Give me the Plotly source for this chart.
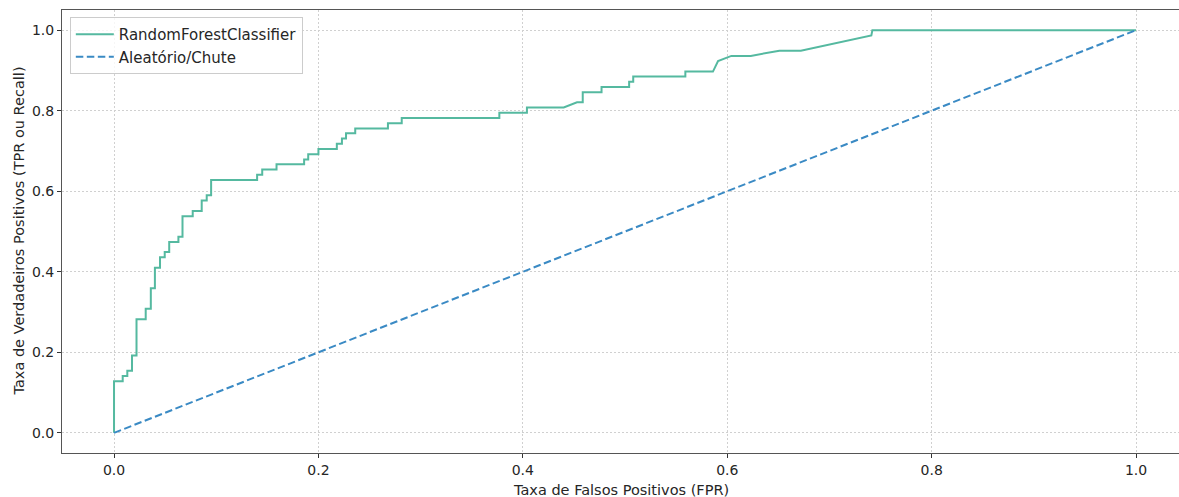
import plotly.graph_objects as go

model_name = "RandomForestClassifier"
baseline_name = "Aleatório/Chute"
x_title = "Taxa de Falsos Positivos (FPR)"
y_title = "Taxa de Verdadeiros Positivos (TPR ou Recall)"

fpr = [0.0, 0.0, 0.0085, 0.0085, 0.013, 0.013, 0.0176, 0.0176, 0.022, 0.022,
       0.031, 0.031, 0.036, 0.036, 0.040, 0.040, 0.045, 0.045, 0.0496, 0.0496,
       0.054, 0.054, 0.063, 0.063, 0.067, 0.067, 0.077, 0.077, 0.0858, 0.0858,
       0.0907, 0.0907, 0.095, 0.095, 0.140, 0.140, 0.145, 0.145, 0.159, 0.159,
       0.186, 0.186, 0.190, 0.190, 0.200, 0.200, 0.218, 0.218, 0.223, 0.223,
       0.227, 0.227, 0.236, 0.236, 0.268, 0.268, 0.2815, 0.2815, 0.377, 0.377,
       0.404, 0.404, 0.440, 0.453, 0.4586, 0.4586, 0.477, 0.477, 0.504, 0.504,
       0.508, 0.508, 0.559, 0.559, 0.586, 0.591, 0.604, 0.623, 0.651, 0.672,
       0.741, 0.742, 1.0]
tpr = [0.0, 0.128, 0.128, 0.141, 0.141, 0.154, 0.154, 0.192, 0.192, 0.282,
       0.282, 0.308, 0.308, 0.359, 0.359, 0.410, 0.410, 0.436, 0.436, 0.449,
       0.449, 0.474, 0.474, 0.487, 0.487, 0.538, 0.538, 0.551, 0.551, 0.577,
       0.577, 0.590, 0.590, 0.628, 0.628, 0.641, 0.641, 0.654, 0.654, 0.667,
       0.667, 0.679, 0.679, 0.692, 0.692, 0.705, 0.705, 0.718, 0.718, 0.731,
       0.731, 0.744, 0.744, 0.756, 0.756, 0.769, 0.769, 0.782, 0.782, 0.795,
       0.795, 0.808, 0.808, 0.821, 0.821, 0.846, 0.846, 0.859, 0.859, 0.872,
       0.872, 0.885, 0.885, 0.897, 0.897, 0.923, 0.936, 0.936, 0.949, 0.949,
       0.987, 1.0, 1.0]

chance_x = [0.0, 1.0]
chance_y = [0.0, 1.0]

tick_vals = [0.0, 0.2, 0.4, 0.6, 0.8, 1.0]
tick_text = ["0.0", "0.2", "0.4", "0.6", "0.8", "1.0"]

fig = go.Figure()
fig.add_trace(go.Scatter(x=fpr, y=tpr, mode="lines", name=model_name,
                         line=dict(color="#55b9a0", width=2)))
fig.add_trace(go.Scatter(x=chance_x, y=chance_y, mode="lines", name=baseline_name,
                         line=dict(color="#3a8ac4", width=2, dash="7.5px,3.5px")))

font_family = "DejaVu Sans"
axis_common = dict(
    automargin=False,
    showgrid=True, gridcolor="#d0d0d0", griddash="2px,2px", gridwidth=1,
    zeroline=False, showline=True, linecolor="#555555", linewidth=1,
    ticks="outside", ticklen=4, tickcolor="#333333", tickwidth=1,
    tickfont=dict(family=font_family, size=14, color="#262626"),
    tickvals=tick_vals, ticktext=tick_text,
)

fig.update_layout(
    width=1179, height=497,
    margin=dict(l=62, r=0, t=10, b=44, autoexpand=False),
    paper_bgcolor="white", plot_bgcolor="white",
    font=dict(family=font_family, color="#262626"),
    showlegend=True,
    legend=dict(x=0.007, y=0.984, xanchor="left", yanchor="top",
                bgcolor="rgba(255,255,255,0.8)", bordercolor="#cccccc", borderwidth=1,
                font=dict(family=font_family, size=15, color="#262626"),
                itemwidth=38, tracegroupgap=0),
    xaxis=dict(range=[-0.0509, 1.042], mirror=True, **axis_common),
    yaxis=dict(range=[-0.05, 1.05], mirror=False, **axis_common),
    annotations=[
        dict(text=x_title, xref="paper", yref="paper", x=0.5, y=0,
             xanchor="center", yanchor="middle", yshift=-37, showarrow=False,
             font=dict(family=font_family, size=14.5, color="#262626")),
        dict(text=y_title, xref="paper", yref="paper", x=0, y=0.5, textangle=-90,
             xanchor="center", yanchor="middle", xshift=-44, showarrow=False,
             font=dict(family=font_family, size=14.5, color="#262626")),
    ],
)

fig.write_html("out.html", config={"displayModeBar": False},
               post_script="document.body.style.margin='0';document.body.style.overflow='hidden';")
